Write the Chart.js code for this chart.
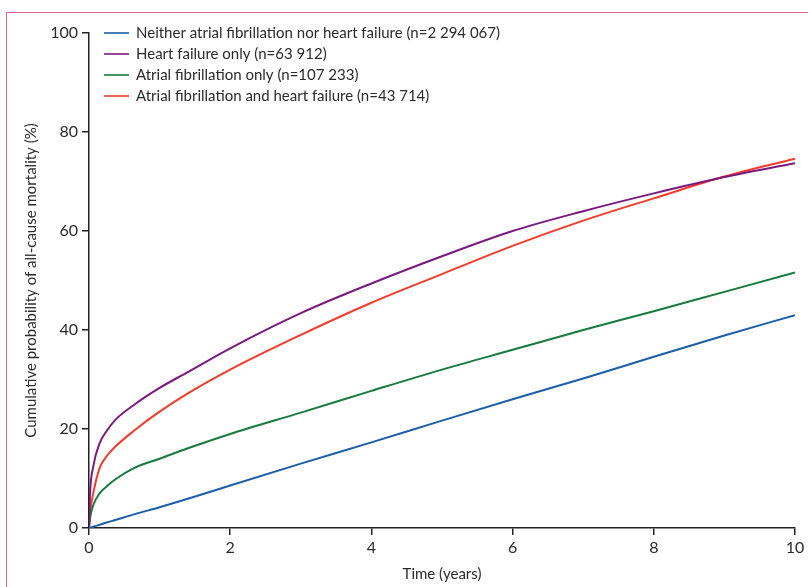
<!DOCTYPE html>
<html>
<head>
<meta charset="utf-8">
<script src="https://cdn.jsdelivr.net/npm/chart.js@4.4.1/dist/chart.umd.min.js"></script>
<style>
  html, body { margin: 0; padding: 0; background: #fff; }
  #wrap { position: relative; width: 808px; height: 587px; }
  #frame { position: absolute; left: 6px; top: 12px; right: -2px; bottom: -2px; border-top: 1.5px solid #d8688f; border-left: 1.5px solid #d8688f; }
</style>
</head>
<body>
<div id="wrap">
  <div id="frame"></div>
  <canvas id="mortalityChart" width="808" height="587"></canvas>
</div>
<script>
// time points in years
const years = [0, 0.015, 0.06, 0.15, 0.25, 0.37, 0.65, 1, 1.4, 2, 3, 4, 5, 6, 7, 8, 9, 10];

const seriesLabels = [
    'Neither atrial fibrillation nor heart failure (n=2 294 067)',
    'Heart failure only (n=63 912)',
    'Atrial fibrillation only (n=107 233)',
    'Atrial fibrillation and heart failure (n=43 714)'
];
const seriesColors = ['#1d5ea8', '#7a1a7f', '#187a3c', '#f23b2b'];

// cumulative mortality (%)
const neitherValues = [0, 0.07, 0.25, 0.65, 1.1, 1.6, 2.8, 4.2, 5.9, 8.6, 13.0, 17.3, 21.7, 26.0, 30.2, 34.6, 38.9, 43.0];
const hfOnlyValues  = [0, 7.0, 12.4, 17.1, 19.6, 21.8, 25.0, 28.3, 31.5, 36.3, 43.4, 49.4, 54.9, 60.0, 64.0, 67.6, 70.9, 73.7];
const afOnlyValues  = [0, 2.0, 4.6, 7.0, 8.4, 9.8, 12.2, 14.0, 16.1, 19.0, 23.3, 27.7, 32.0, 36.0, 40.0, 43.8, 47.7, 51.6];
const afHfValues    = [0, 3.0, 7.0, 12.1, 14.5, 16.4, 19.8, 23.5, 27.2, 32.0, 39.0, 45.5, 51.3, 57.0, 62.1, 66.6, 71.0, 74.6];

const allValues = [neitherValues, hfOnlyValues, afOnlyValues, afHfValues];

const textColor = '#2b2b2b';
const axisColor = '#222';

// legend drawn inside the plot, top left
const insideLegend = {
    id: 'insideLegend',
    afterDraw(chart) {
        const ctx = chart.ctx;
        const area = chart.chartArea;
        ctx.save();
        ctx.font = '15px Lato';
        ctx.textBaseline = 'middle';
        chart.data.datasets.forEach((ds, i) => {
            const y = area.top + i * 21;
            ctx.strokeStyle = ds.borderColor;
            ctx.lineWidth = 1.6;
            ctx.beginPath();
            ctx.moveTo(area.left + 15, y);
            ctx.lineTo(area.left + 40, y);
            ctx.stroke();
            ctx.fillStyle = textColor;
            ctx.fillText(ds.label, area.left + 47, y);
        });
        ctx.restore();
    }
};

const ctx = document.getElementById('mortalityChart').getContext('2d');
new Chart(ctx, {
    type: 'line',
    data: {
        datasets: allValues.map((vals, i) => ({
            label: seriesLabels[i],
            data: years.map((t, j) => ({ x: t, y: vals[j] })),
            borderColor: seriesColors[i],
            borderWidth: 2,
            pointRadius: 0,
            fill: false,
            cubicInterpolationMode: 'monotone'
        }))
    },
    options: {
        responsive: false,
        animation: false,
        layout: { padding: { left: 0, right: 13, top: 33, bottom: 0 } },
        plugins: {
            legend: { display: false },
            tooltip: { enabled: false }
        },
        scales: {
            x: {
                type: 'linear',
                min: 0,
                max: 10,
                ticks: { stepSize: 2, color: textColor, font: { family: 'Lato', size: 16 }, padding: 3 },
                grid: { drawOnChartArea: false, drawTicks: true, tickLength: 7, color: axisColor, lineWidth: 1.5 },
                border: { color: axisColor, width: 1.5 },
                title: { display: true, text: 'Time (years)', color: textColor, font: { family: 'Lato', size: 15 }, padding: { top: 4 } },
                afterFit: function (scale) { scale.height = 59; }
            },
            y: {
                min: 0,
                max: 100,
                ticks: { stepSize: 20, color: textColor, font: { family: 'Lato', size: 16 }, padding: 4 },
                grid: { drawOnChartArea: false, drawTicks: true, tickLength: 7, color: axisColor, lineWidth: 1.5 },
                border: { color: axisColor, width: 1.5 },
                title: { display: true, text: 'Cumulative probability of all-cause mortality (%)', color: textColor, font: { family: 'Lato', size: 15 }, padding: { top: 22, bottom: 0 } },
                afterFit: function (scale) { scale.width = 89; }
            }
        }
    },
    plugins: [insideLegend]
});
</script>
</body>
</html>
